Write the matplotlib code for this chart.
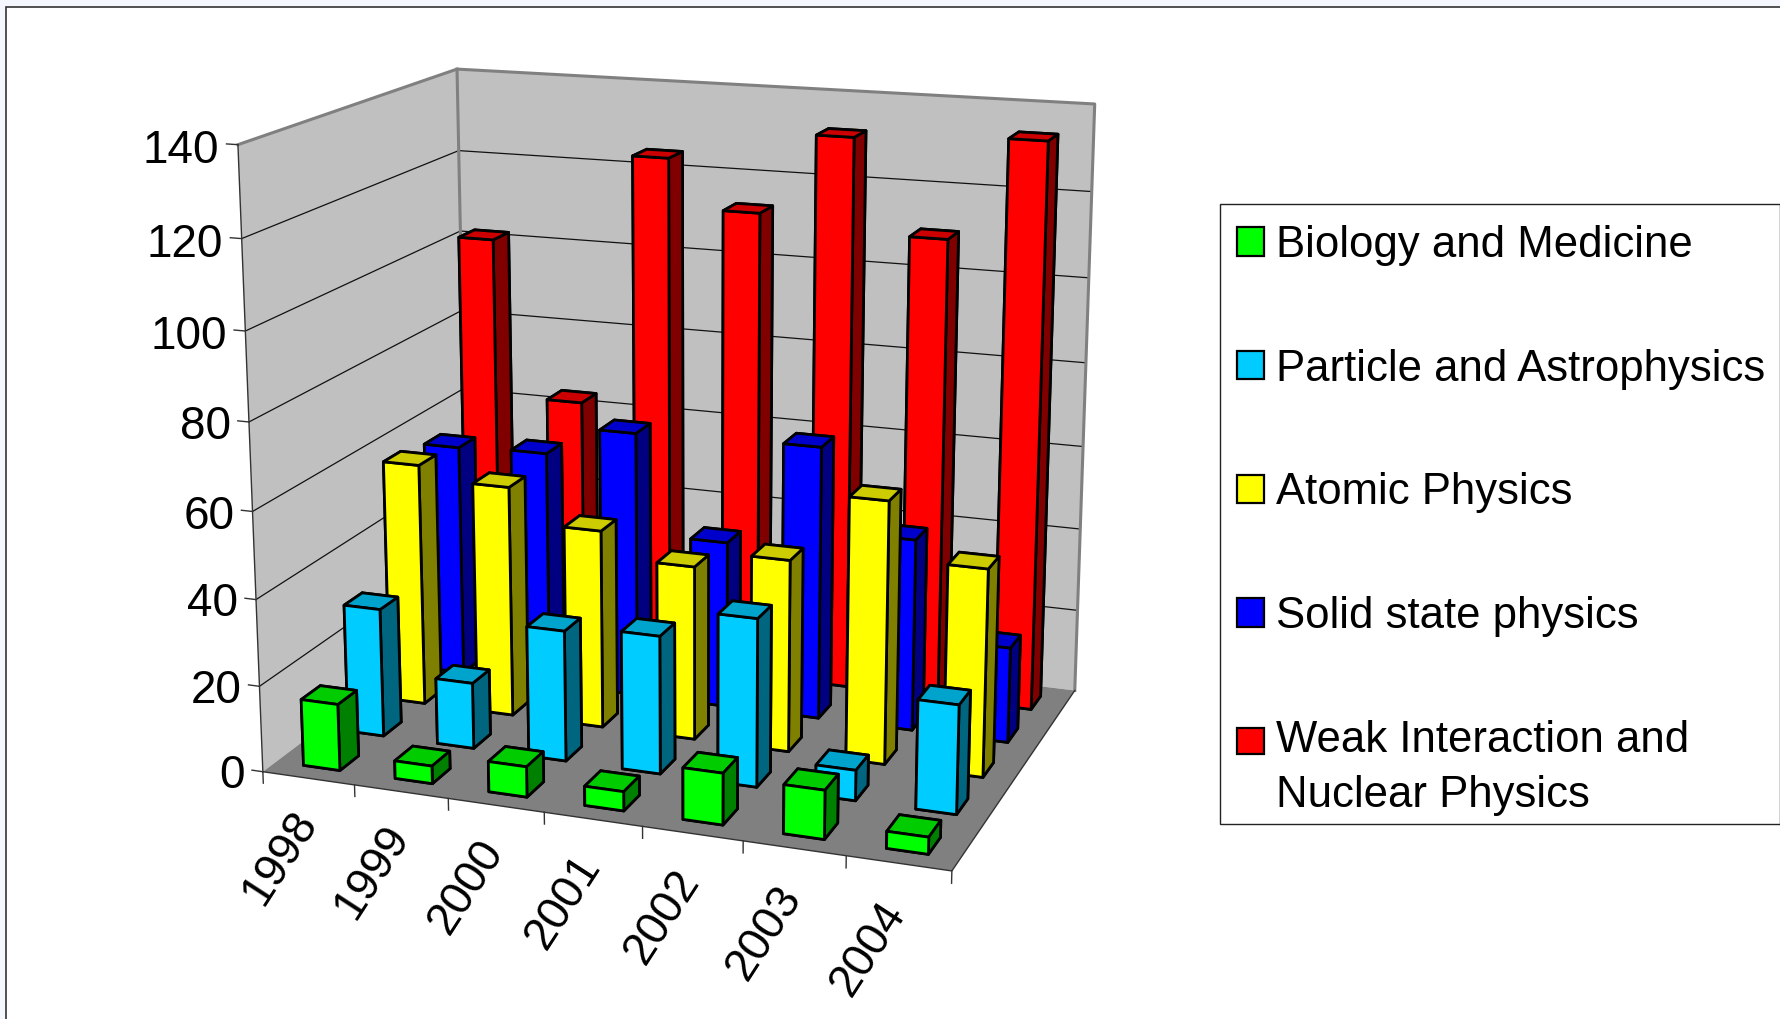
import numpy as np
import matplotlib
matplotlib.use("Agg")
import matplotlib.pyplot as plt
from matplotlib.patches import Patch, Rectangle
from matplotlib.legend_handler import HandlerPatch
from matplotlib.colors import to_rgb
from mpl_toolkits.mplot3d.art3d import Poly3DCollection

plt.rcParams['font.family'] = ['Liberation Sans', 'DejaVu Sans']

years = ['1998', '1999', '2000', '2001', '2002', '2003', '2004']
series_names = ['Biology and Medicine', 'Particle and Astrophysics', 'Atomic Physics',
                'Solid state physics', 'Weak Interaction and\nNuclear Physics']
biology = [15.5, 4.1, 7, 4.4, 11.7, 11, 3.8]
particle = [30.3, 15.5, 30.5, 32, 38.7, 7, 24.8]
atomic = [58, 55, 47, 41, 45, 61, 48]
solid = [56.3, 57, 64, 40, 65, 45.5, 22.5]
weak = [102, 63.7, 124.5, 113, 132, 110, 133.8]
series_values = [biology, particle, atomic, solid, weak]
series_colors = ['#00FF00', '#00CCFF', '#FFFF00', '#0000FF', '#FF0000']
z_ticks = [0, 20, 40, 60, 80, 100, 120, 140]

W, H = 1781, 1019
FS_TICK = 33
FS_LEG = 31.5
BAR_W, BAR_D = 0.4, 0.42

# camera calibration: box landmarks (category, series, value) -> reference pixels
calib = [
    (0, 0, 140, 237.7, 145.3), (0, 0, 120, 241.5, 238), (0, 0, 100, 245.3, 330.7),
    (0, 0, 80, 249.1, 422.7), (0, 0, 60, 252.8, 512), (0, 0, 40, 256.3, 599),
    (0, 0, 20, 259.3, 685), (0, 0, 0, 263.1, 772.7),
    (1, 0, 0, 354.6, 784), (3, 0, 0, 544, 813.3), (5, 0, 0, 741.5, 840.7),
    (7, 0, 0, 953.3, 871), (7, 5, 0, 1076, 689.3),
    (7, 5, 140, 1095.7, 104.3), (7, 5, 120, 1091, 192), (7, 5, 100, 1088, 278),
    (7, 5, 80, 1085.7, 362), (7, 5, 60, 1083.3, 446), (7, 5, 40, 1080, 530),
    (7, 5, 20, 1077, 610.7),
    (0, 5, 140, 458, 67), (0, 5, 120, 458.5, 152), (0, 5, 100, 460.4, 230),
    (0, 5, 80, 462, 311.7), (0, 5, 60, 463, 389),
]


def fit_camera(points):
    A, b = [], []
    for X, Y, Z, u, v in points:
        x, y, z = X / 7, Y / 5, Z / 140
        A.append([x, y, z, 1, 0, 0, 0, 0, -u * x, -u * y, -u * z]); b.append(u)
        A.append([0, 0, 0, 0, x, y, z, 1, -v * x, -v * y, -v * z]); b.append(v)
    p = np.linalg.lstsq(np.array(A), np.array(b), rcond=None)[0]
    P = np.array(list(p) + [1.0]).reshape(3, 4)
    return P @ np.diag([1 / 7, 1 / 5, 1 / 140, 1])


CAM = fit_camera(calib)


def to_fig(x, y, z):
    """Chart coordinates to figure fractions, for labels."""
    u, v, w = CAM @ np.array([x, y, z, 1.0])
    return (u / w) / W, 1 - (v / w) / H


fig = plt.figure(figsize=(W / 100, H / 100), dpi=100, facecolor='#F5F7FE')
fig.patches.append(Rectangle((6.5 / W, -0.1), 1.2, 1.1 - 6.7 / H, transform=fig.transFigure,
                             facecolor='white', edgecolor='#333333', linewidth=1.2, figure=fig))
fig.patches.append(Rectangle((1220 / W, 1 - 823.6 / H), (1780.3 - 1220) / W, (823.6 - 203.5) / H,
                             transform=fig.transFigure, facecolor='white', edgecolor='#222222',
                             linewidth=1.0, figure=fig, zorder=2))

ax = fig.add_axes([0, 0, 1, 1], projection='3d', computed_zorder=False)
ax.apply_aspect = lambda position=None: None
ax._viewLim.set_points(np.array([[0, 0], [W, H]], float))
ax.set_proj_type('ortho')
ax.set_axis_off()
ax.patch.set_visible(False)
ax.set_zorder(3)


def camera_proj():
    A = ax.transData.get_affine().get_matrix()
    flip = np.array([[1, 0, 0], [0, -1, H], [0, 0, 1.0]])
    Q = np.linalg.inv(A) @ flip @ CAM
    return np.vstack([Q[0], Q[1], [0, 0, 0, -1.0], Q[2]])


ax.get_proj = camera_proj

# walls and floor
nx, ny, zmax = len(years), len(series_names), z_ticks[-1]
ax.add_collection3d(Poly3DCollection(
    [[(0, 0, 0), (0, ny, 0), (0, ny, zmax), (0, 0, zmax)],
     [(0, ny, 0), (nx, ny, 0), (nx, ny, zmax), (0, ny, zmax)]],
    facecolors='#C0C0C0', edgecolors='none', zorder=1))
ax.add_collection3d(Poly3DCollection(
    [[(0, 0, 0), (nx, 0, 0), (nx, ny, 0), (0, ny, 0)]],
    facecolors='#808080', edgecolors='none', zorder=1.5))

for z in z_ticks[1:-1]:
    ax.plot([0, 0, nx], [0, ny, ny], [z, z, z], color='#111111', lw=0.9, zorder=2)
gray = dict(color='#808080', lw=2.2, zorder=3)
ax.plot([0, 0, nx, nx], [0, ny, ny, ny], [zmax, zmax, zmax, 0], **gray)
ax.plot([0, 0], [ny, ny], [zmax, 0], **gray)
dark = dict(color='#333333', lw=1.0, zorder=3)
ax.plot([0, 0], [0, 0], [0, zmax], **dark)
ax.plot([0, nx, nx], [0, 0, ny], [0, 0, 0], **dark)
for z in z_ticks:
    ax.plot([-0.12, 0], [0, 0], [z, z], **dark)
    fx, fy = to_fig(-0.2, 0, z - 1.6)
    fig.text(fx, fy, str(z), ha='right', va='center', fontsize=FS_TICK, color='black', zorder=7)
for i in range(nx + 1):
    ax.plot([i, i], [0, 0], [0, -2.7], **dark)
for i, label in enumerate(years):
    fx, fy = to_fig(i + 0.15 + i * 0.012, 0, -20)
    fig.text(fx, fy, label, rotation=57, ha='center', va='center', rotation_mode='anchor',
             fontsize=FS_TICK, color='black', zorder=7)


def shade(color, k):
    return tuple(c * k for c in to_rgb(color))


# bars: back series first, left to right
zo = 10
for j in range(ny - 1, -1, -1):
    front, top, side = series_colors[j], shade(series_colors[j], 0.8), shade(series_colors[j], 0.5)
    for i, v in enumerate(series_values[j]):
        ax.bar3d(i + 0.5 - BAR_W / 2, j + 0.5 - BAR_D / 2, 0, BAR_W, BAR_D, v,
                 color=[front, top, front, front, side, side], shade=False,
                 edgecolor='black', linewidth=2.0, zorder=zo)
        zo += 1

ax.set_xticks([])
ax.set_yticks([])
ax.set_zticks([])

handles = [Patch(facecolor=c, edgecolor='black', linewidth=1.6) for c in series_colors]
hmap = {handles[-1]: HandlerPatch(ypad=1.25)}
leg = fig.legend(handles, series_names, loc='upper left',
                 bbox_to_anchor=(1237 / W, 1 - 225 / H), bbox_transform=fig.transFigure,
                 borderaxespad=0, fontsize=FS_LEG, frameon=False,
                 handlelength=0.62, handleheight=0.62, handletextpad=0.28,
                 borderpad=0, labelspacing=1.89, handler_map=hmap)
leg.get_texts()[-1].set_linespacing(1.44)
leg.set_zorder(6)

fig.savefig('out.png', dpi=100, facecolor=fig.get_facecolor())
